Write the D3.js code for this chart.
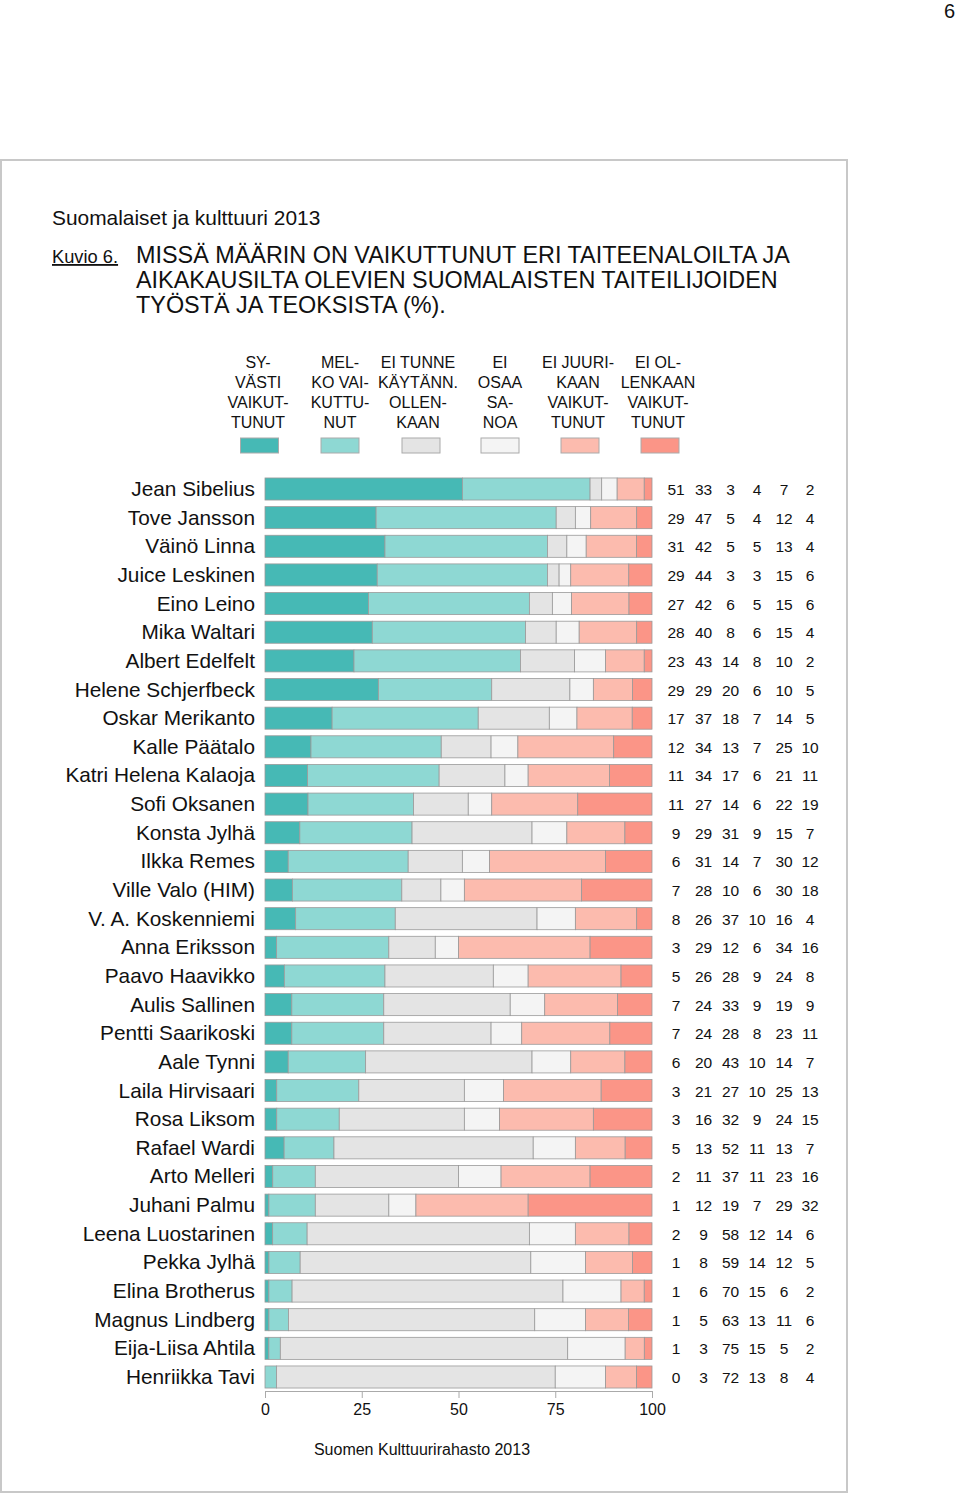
<!DOCTYPE html>
<html><head><meta charset="utf-8">
<script src="https://cdn.jsdelivr.net/npm/d3@7"></script>
<style>
body{margin:0;background:#fff;}
svg text{font-family:"Liberation Sans",Arial,sans-serif;fill:#111;}
</style></head><body>
<svg id="c" width="960" height="1494"></svg>
<script>
const names = ["Jean Sibelius","Tove Jansson","Väinö Linna","Juice Leskinen","Eino Leino","Mika Waltari","Albert Edelfelt","Helene Schjerfbeck","Oskar Merikanto","Kalle Päätalo","Katri Helena Kalaoja","Sofi Oksanen","Konsta Jylhä","Ilkka Remes","Ville Valo (HIM)","V. A. Koskenniemi","Anna Eriksson","Paavo Haavikko","Aulis Sallinen","Pentti Saarikoski","Aale Tynni","Laila Hirvisaari","Rosa Liksom","Rafael Wardi","Arto Melleri","Juhani Palmu","Leena Luostarinen","Pekka Jylhä","Elina Brotherus","Magnus Lindberg","Eija-Liisa Ahtila","Henriikka Tavi"];
const syvasti   = [51,29,31,29,27,28,23,29,17,12,11,11,9,6,7,8,3,5,7,7,6,3,3,5,2,1,2,1,1,1,1,0];
const melko     = [33,47,42,44,42,40,43,29,37,34,34,27,29,31,28,26,29,26,24,24,20,21,16,13,11,12,9,8,6,5,3,3];
const eiTunne   = [3,5,5,3,6,8,14,20,18,13,17,14,31,14,10,37,12,28,33,28,43,27,32,52,37,19,58,59,70,63,75,72];
const eiOsaa    = [4,4,5,3,5,6,8,6,7,7,6,6,9,7,6,10,6,9,9,8,10,10,9,11,11,7,12,14,15,13,15,13];
const eiJuuri   = [7,12,13,15,15,15,10,10,14,25,21,22,15,30,30,16,34,24,19,23,14,25,24,13,23,29,14,12,6,11,5,8];
const eiOllenk  = [2,4,4,6,6,4,2,5,5,10,11,19,7,12,18,4,16,8,9,11,7,13,15,7,16,32,6,5,2,6,2,4];
const seriesLabels = [
  ["SY-","VÄSTI","VAIKUT-","TUNUT"],
  ["MEL-","KO VAI-","KUTTU-","NUT"],
  ["EI TUNNE","KÄYTÄNN.","OLLEN-","KAAN"],
  ["EI","OSAA","SA-","NOA"],
  ["EI JUURI-","KAAN","VAIKUT-","TUNUT"],
  ["EI OL-","LENKAAN","VAIKUT-","TUNUT"]
];
const colors = ["#46b9b5","#8ed8d3","#e4e4e4","#f4f4f4","#fcbbae","#fb9587"];
const ticks = [0,25,50,75,100];
const series = [syvasti, melko, eiTunne, eiOsaa, eiJuuri, eiOllenk];

const svg = d3.select("#c");
// page frame
svg.append("rect").attr("x",1).attr("y",160).attr("width",846).attr("height",1332)
  .attr("fill","none").attr("stroke","#c8c8c8").attr("stroke-width",2);
svg.append("text").attr("x",955).attr("y",18).attr("text-anchor","end").attr("font-size",20).text("6");

svg.append("text").attr("x",52).attr("y",225).attr("font-size",20.9).text("Suomalaiset ja kulttuuri 2013");
svg.append("text").attr("x",52).attr("y",263).attr("font-size",18.3).attr("text-decoration","underline").text("Kuvio 6.");
const titleLines = ["MISSÄ MÄÄRIN ON VAIKUTTUNUT ERI TAITEENALOILTA JA","AIKAKAUSILTA OLEVIEN SUOMALAISTEN TAITEILIJOIDEN","TYÖSTÄ JA TEOKSISTA (%)."];
titleLines.forEach((t,i)=>svg.append("text").attr("x",136).attr("y",263+i*25).attr("font-size",23.4).text(t));

// legend
const legX = [258,340,418,500,578,658];
const swX = [259.5,340,421,500,580,660];
seriesLabels.forEach((lines,k)=>{
  lines.forEach((l,j)=>svg.append("text").attr("x",legX[k]).attr("y",368+j*20)
     .attr("text-anchor","middle").attr("font-size",16).text(l));
  svg.append("rect").attr("x",swX[k]-19).attr("y",438).attr("width",38).attr("height",15)
     .attr("fill",colors[k]).attr("stroke","#aaa").attr("stroke-width",1);
});

const x = d3.scaleLinear().domain([0,100]).range([265,652]);
const step = 28.645;
const y = d3.scaleBand().domain(names).range([474.68, 474.68+names.length*step])
  .paddingInner(0.23).paddingOuter(0.115);

// each row normalised to 100 % (bars all end at 100)
const rows = names.map((n,i)=>{
  const total = d3.sum(series, s=>s[i]);
  let acc=0;
  return series.map((s,k)=>{const v=s[i]/total*100; const seg={name:n,k,x0:acc,x1:acc+v}; acc+=v; return seg;});
});

const g = svg.append("g");
rows.forEach(segs=>{
  g.selectAll(null).data(segs).enter().append("rect")
    .attr("x",d=>x(d.x0)).attr("y",d=>y(d.name))
    .attr("width",d=>Math.max(0,x(d.x1)-x(d.x0))).attr("height",y.bandwidth())
    .attr("fill",d=>colors[d.k]).attr("stroke","#9a9a9a").attr("stroke-width",0.8);
});

// name labels
svg.selectAll(".nm").data(names).enter().append("text")
  .attr("x",255).attr("y",d=>y(d)+y.bandwidth()/2+7)
  .attr("text-anchor","end").attr("font-size",20.8).text(d=>d);

// value columns
const colX = [676,703.5,730.5,757,784,810];
series.forEach((s,k)=>{
  svg.selectAll(null).data(s).enter().append("text")
    .attr("x",colX[k]).attr("y",(d,i)=>y(names[i])+y.bandwidth()/2+6)
    .attr("text-anchor","middle").attr("font-size",15.5).text(d=>d);
});

// axis
const ax = svg.append("g").attr("transform","translate(0,1391)")
  .call(d3.axisBottom(x).tickValues(ticks).tickSize(7).tickSizeOuter(7).tickPadding(6).tickFormat(d3.format("d")));
ax.select(".domain").attr("stroke","#aaa");
ax.selectAll(".tick line").attr("stroke","#aaa");
ax.selectAll(".tick text").attr("font-size",16).attr("fill","#111")
  .style("font-family","'Liberation Sans',Arial,sans-serif");

svg.append("text").attr("x",422).attr("y",1455).attr("text-anchor","middle").attr("font-size",16)
  .text("Suomen Kulttuurirahasto 2013");
</script>
</body></html>
